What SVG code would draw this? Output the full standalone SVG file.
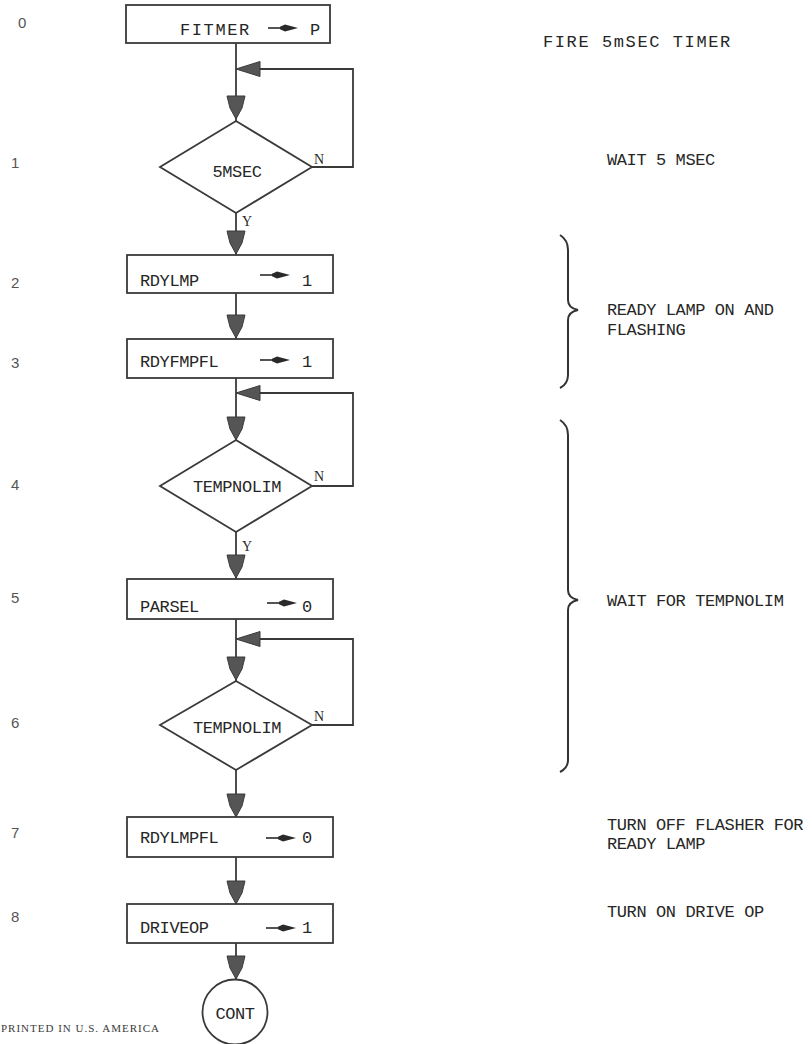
<svg xmlns="http://www.w3.org/2000/svg" width="812" height="1044" viewBox="0 0 812 1044">
<style>
.bg{fill:#ffffff}
.box{fill:#ffffff;stroke:#3a3a3a;stroke-width:1.8}
.ln{fill:none;stroke:#3a3a3a;stroke-width:1.8}
.tri{fill:#555555;stroke:#3a3a3a;stroke-width:1}
.tt{font-family:"Liberation Mono","Courier New",monospace;font-size:17px;fill:#262626;letter-spacing:-0.4px}
.lbl{font-family:"Liberation Serif","Times New Roman",serif;font-size:14px;fill:#2a2a2a}
.num{font-family:"Liberation Sans",Arial,sans-serif;font-size:15px;fill:#555555}
.pr{font-family:"Liberation Serif","Times New Roman",serif;font-size:11px;fill:#3a3a3a;letter-spacing:1px}
.brace{fill:none;stroke:#333333;stroke-width:2}
</style>
<defs>
<g id="dn"><polygon points="-9,-23 9,-23 6,-11 0,0 -6,-11"/></g>
<g id="lf"><polygon points="0,0 24,-7.5 24,7.5"/></g>
<g id="asg"><line x1="0" y1="0" x2="14" y2="0" stroke="#2a2a2a" stroke-width="1.6"/><polygon points="12,-1.2 17,-3.6 30,0 17,3.6 12,1.2" fill="#2a2a2a"/></g>
</defs>
<rect class="bg" x="0" y="0" width="812" height="1044"/>

<g id="connectors">
<line class="ln" x1="236" y1="43" x2="236" y2="121"/>
<polyline class="ln" points="312,167 353,167 353,69 258,69"/>
<line class="ln" x1="236" y1="213" x2="236" y2="255"/>
<line class="ln" x1="236" y1="293" x2="236" y2="339"/>
<line class="ln" x1="236" y1="378" x2="236" y2="440"/>
<polyline class="ln" points="312,486 353,486 353,393 258,393"/>
<line class="ln" x1="236" y1="532" x2="236" y2="579"/>
<line class="ln" x1="236" y1="619" x2="236" y2="681"/>
<polyline class="ln" points="312,725 353,725 353,639 258,639"/>
<line class="ln" x1="236" y1="770" x2="236" y2="817"/>
<line class="ln" x1="236" y1="857" x2="236" y2="904"/>
<line class="ln" x1="236" y1="943" x2="236" y2="979"/>
<g class="tri">
<use href="#dn" x="236" y="119"/>
<use href="#lf" x="236" y="69"/>
<use href="#dn" x="236" y="254"/>
<use href="#dn" x="236" y="338"/>
<use href="#lf" x="236" y="393"/>
<use href="#dn" x="236" y="440"/>
<use href="#dn" x="236" y="578"/>
<use href="#lf" x="236" y="639"/>
<use href="#dn" x="236" y="680"/>
<use href="#dn" x="236" y="817"/>
<use href="#dn" x="236" y="904"/>
<use href="#dn" x="236" y="979"/>
</g>
<text class="lbl" x="314" y="164">N</text>
<text class="lbl" x="242" y="226">Y</text>
<text class="lbl" x="314" y="481">N</text>
<text class="lbl" x="242" y="551">Y</text>
<text class="lbl" x="314" y="721">N</text>
</g>

<g id="n0">
<rect class="box" x="126" y="5" width="204" height="38"/>
<text class="tt" x="180" y="35" style="letter-spacing:1.6px">FITMER</text>
<use href="#asg" x="268" y="28"/>
<text class="tt" x="310" y="35">P</text>
</g>
<g id="n1">
<polygon class="box" points="236,121 312,167 236,213 160,167"/>
<text class="tt" x="237" y="177" text-anchor="middle">5MSEC</text>
</g>
<g id="n2">
<rect class="box" x="127" y="255" width="206" height="38"/>
<text class="tt" x="140" y="286">RDYLMP</text>
<use href="#asg" x="260" y="275"/>
<text class="tt" x="302" y="286">1</text>
</g>
<g id="n3">
<rect class="box" x="127" y="339" width="206" height="39"/>
<text class="tt" x="140" y="367">RDYFMPFL</text>
<use href="#asg" x="260" y="360"/>
<text class="tt" x="302" y="367">1</text>
</g>
<g id="n4">
<polygon class="box" points="236,440 312,486 236,532 160,486"/>
<text class="tt" x="237" y="492" text-anchor="middle">TEMPNOLIM</text>
</g>
<g id="n5">
<rect class="box" x="127" y="579" width="206" height="40"/>
<text class="tt" x="140" y="612">PARSEL</text>
<use href="#asg" x="267" y="603"/>
<text class="tt" x="302" y="612">0</text>
</g>
<g id="n6">
<polygon class="box" points="236,681 312,725 236,770 160,725"/>
<text class="tt" x="237" y="733" text-anchor="middle">TEMPNOLIM</text>
</g>
<g id="n7">
<rect class="box" x="127" y="817" width="206" height="40"/>
<text class="tt" x="140" y="843">RDYLMPFL</text>
<use href="#asg" x="266" y="838"/>
<text class="tt" x="302" y="843">0</text>
</g>
<g id="n8">
<rect class="box" x="127" y="904" width="206" height="39"/>
<text class="tt" x="140" y="933">DRIVEOP</text>
<use href="#asg" x="266" y="928"/>
<text class="tt" x="302" y="933">1</text>
</g>
<g id="n9">
<circle class="box" cx="235" cy="1012" r="32.5"/>
<text class="tt" x="235" y="1019" text-anchor="middle">CONT</text>
</g>

<g id="stepnums">
<text class="num" x="18" y="28">0</text>
<text class="num" x="11" y="168">1</text>
<text class="num" x="11" y="288">2</text>
<text class="num" x="11" y="368">3</text>
<text class="num" x="11" y="490">4</text>
<text class="num" x="11" y="603">5</text>
<text class="num" x="11" y="728">6</text>
<text class="num" x="11" y="838">7</text>
<text class="num" x="11" y="922">8</text>
</g>

<g id="comments">
<text class="tt" x="543" y="47" style="letter-spacing:1.6px">FIRE 5mSEC TIMER</text>
<text class="tt" x="607" y="165">WAIT 5 MSEC</text>
<path class="brace" d="M560,235 Q568,240 568,250 L568,300 Q568,308 578,310 Q568,312 568,320 L568,375 Q568,384 560,388"/>
<text class="tt" x="607" y="315">READY LAMP ON AND</text>
<text class="tt" x="607" y="335">FLASHING</text>
<path class="brace" d="M560,420 Q568,425 568,435 L568,590 Q568,598 578,600 Q568,602 568,610 L568,760 Q568,768 560,772"/>
<text class="tt" x="607" y="606">WAIT FOR TEMPNOLIM</text>
<text class="tt" x="607" y="830">TURN OFF FLASHER FOR</text>
<text class="tt" x="607" y="849">READY LAMP</text>
<text class="tt" x="607" y="917">TURN ON DRIVE OP</text>
</g>

<text class="pr" x="1" y="1032">PRINTED IN U.S. AMERICA</text>
</svg>
